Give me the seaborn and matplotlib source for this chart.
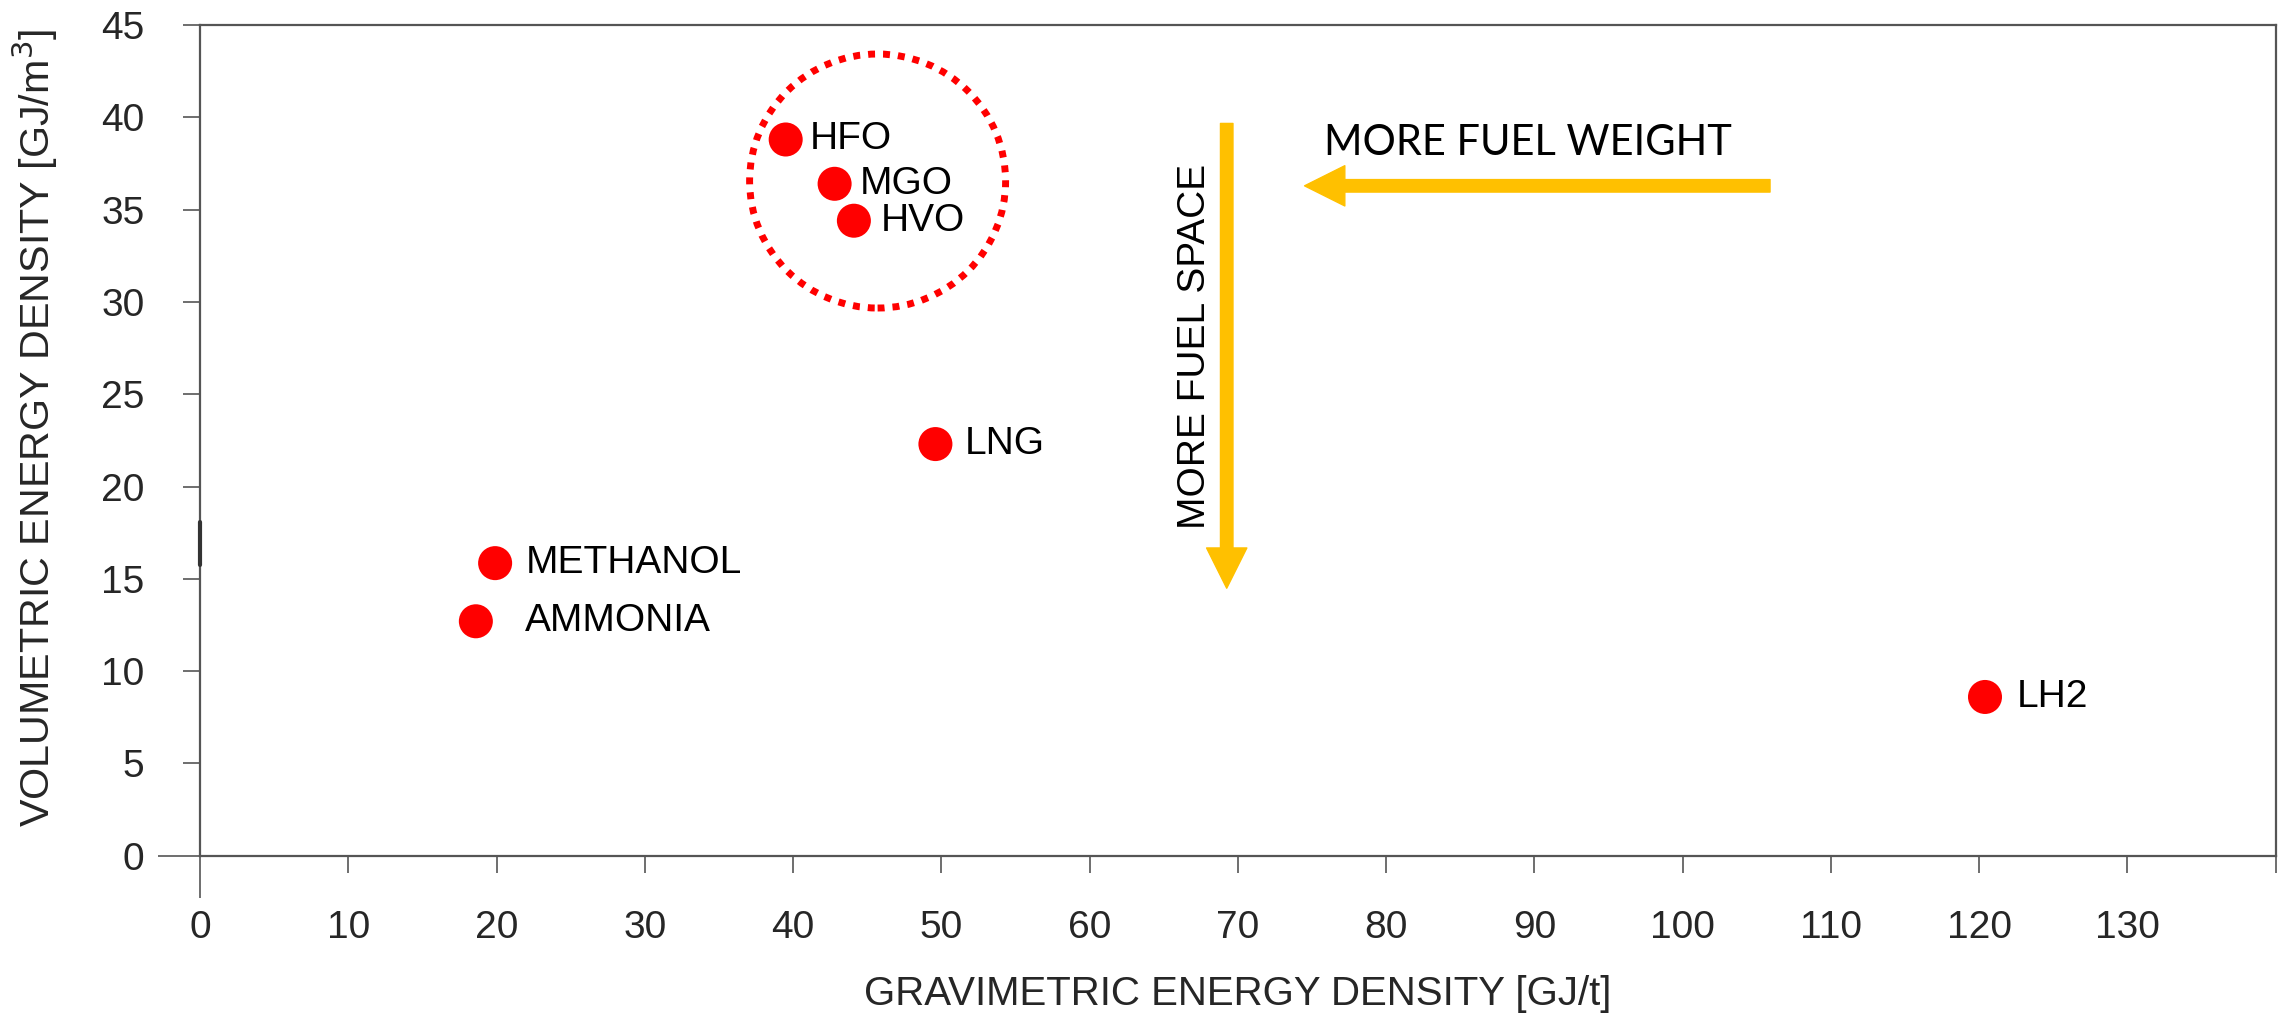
import numpy as np
import pandas as pd
import matplotlib
matplotlib.use("Agg")
import matplotlib.pyplot as plt
import seaborn as sns
from matplotlib.patches import Ellipse

# fuel data
fuels = ["HFO", "MGO", "HVO", "LNG", "METHANOL", "AMMONIA", "LH2"]
gravimetric = [39.5, 42.8, 44.1, 49.6, 19.9, 18.6, 120.4]   # GJ/t
volumetric = [38.8, 36.4, 34.4, 22.3, 15.85, 12.7, 8.6]     # GJ/m3

x_ticks = list(range(0, 141, 10))
x_ticklabels = [str(v) for v in range(0, 131, 10)] + [""]
y_ticks = list(range(0, 46, 5))

df = pd.DataFrame({"fuel": fuels, "grav": gravimetric, "vol": volumetric})

sns.set_style("white")
plt.rcParams["font.family"] = ["Liberation Sans", "DejaVu Sans"]

fig = plt.figure(figsize=(22.87, 10.14), dpi=100)
ax = fig.add_axes([0.0875, 0.1561, 0.9075, 0.8192])

sns.scatterplot(data=df, x="grav", y="vol", color="#ff0000", s=600,
                edgecolor="none", linewidth=0, legend=False, ax=ax, zorder=3)

# label offsets (points) to the right of each dot
label_dx = {"HFO": 17, "MGO": 18, "HVO": 19, "LNG": 21,
            "METHANOL": 22, "AMMONIA": 35, "LH2": 23}
for _, r in df.iterrows():
    ax.annotate(r["fuel"], (r["grav"], r["vol"]), xytext=(label_dx[r["fuel"]], 0),
                textcoords="offset points", ha="left", va="center",
                fontsize=28, color="black")

ax.set_xlim(0, 140)
ax.set_ylim(0, 45)
ax.set_xticks(x_ticks)
ax.set_xticklabels(x_ticklabels)
ax.set_yticks(y_ticks)

for side in ["left", "right", "top", "bottom"]:
    ax.spines[side].set_color("#555555")
    ax.spines[side].set_linewidth(1.6)

ax.tick_params(axis="both", which="major", bottom=True, left=True,
               direction="out", length=12, width=1.2,
               color="#555555", labelsize=28, pad=27)
ax.tick_params(axis="y", pad=28)
# longer tick marks at the origin
ax.xaxis.get_major_ticks()[0].tick1line.set_markersize(30)
ax.yaxis.get_major_ticks()[0].tick1line.set_markersize(30)

label_font = ["Liberation Sans", "DejaVu Sans"]
ax.set_xlabel("GRAVIMETRIC ENERGY DENSITY [GJ/t]", fontsize=29,
              family=label_font, labelpad=21)
ax.set_ylabel("VOLUMETRIC ENERGY DENSITY [GJ/m$^3$]", fontsize=29.7,
              family=label_font)
ax.yaxis.set_label_coords(-0.0675, 0.515)

# dotted circle around the oil-based fuels
ax.add_patch(Ellipse((45.7, 36.55), 17.27, 13.76, fill=False,
                     edgecolor="#ff0000", linewidth=5,
                     linestyle=(0, (1, 1.15)), zorder=2))

# yellow direction arrows
arrow_props = dict(arrowstyle="simple,head_width=2.9,head_length=2.9,tail_width=0.9",
                   color="#ffc000", shrinkA=0, shrinkB=0, mutation_scale=10)
ax.annotate("", xy=(74.5, 36.29), xytext=(105.9, 36.29), arrowprops=arrow_props)
ax.annotate("", xy=(69.25, 14.49), xytext=(69.25, 39.67), arrowprops=arrow_props)

ax.text(75.8, 38.6, "MORE FUEL WEIGHT", fontsize=30, family=["Lato", "DejaVu Sans"],
        ha="left", va="center", color="black")
ax.text(67.1, 27.6, "MORE FUEL SPACE", fontsize=28, rotation=90,
        ha="center", va="center", color="black")

# small darker mark on the y axis
ax.plot([0, 0], [15.75, 18.1], color="#333333", linewidth=3, clip_on=False, zorder=4)

fig.savefig("out.png", dpi=100)
